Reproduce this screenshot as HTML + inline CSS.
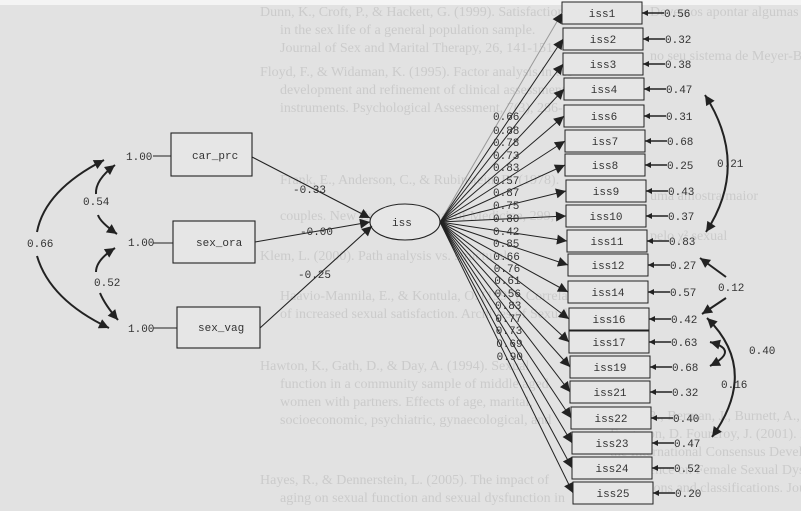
<!DOCTYPE html>
<html><head><meta charset="utf-8"><style>
html,body{margin:0;padding:0;background:#e2e2e2;}
svg{display:block}
.bg{font-family:"Liberation Serif",serif;font-size:14px;fill:#cbcbcb}
.m{font-family:"Liberation Mono",monospace;font-size:11px;fill:#333}
</style></head><body>
<svg width="801" height="511" viewBox="0 0 801 511" xmlns="http://www.w3.org/2000/svg">
<defs>
<marker id="a" viewBox="0 0 10 10" refX="10" refY="5" markerWidth="7" markerHeight="6" orient="auto-start-reverse" markerUnits="userSpaceOnUse"><path d="M0,0 L10,5 L0,10 z" fill="#222"/></marker>
<marker id="b" viewBox="0 0 10 10" refX="10" refY="5" markerWidth="12" markerHeight="10" orient="auto-start-reverse" markerUnits="userSpaceOnUse"><path d="M0,0 L10,5 L0,10 z" fill="#222"/></marker>
</defs>
<rect x="0" y="0" width="801" height="511" fill="#e2e2e2"/>
<rect x="0" y="0" width="801" height="5" fill="#f4f4f4"/>
<g class="bg">
<text x="260" y="16">Dunn, K., Croft, P., &amp; Hackett, G. (1999). Satisfaction</text>
<text x="280" y="34">in the sex life of a general population sample.</text>
<text x="280" y="52">Journal of Sex and Marital Therapy, 26, 141-151.</text>
<text x="260" y="76">Floyd, F., &amp; Widaman, K. (1995). Factor analysis in the</text>
<text x="280" y="94">development and refinement of clinical assessment</text>
<text x="280" y="112">instruments. Psychological Assessment, 7(3), 286-</text>
<text x="280" y="184">Frank, E., Anderson, C., &amp; Rubinstein, D. (1978).</text>
<text x="280" y="220">couples. New England Journal of Medicine, 299,</text>
<text x="260" y="260">Klem, L. (2000). Path analysis vs. structural</text>
<text x="280" y="300">Haavio-Mannila, E., &amp; Kontula, O. (1997). Correlates</text>
<text x="280" y="318">of increased sexual satisfaction. Archives of Sexual</text>
<text x="260" y="370">Hawton, K., Gath, D., &amp; Day, A. (1994). Sexual</text>
<text x="280" y="388">function in a community sample of middle aged</text>
<text x="280" y="406">women with partners. Effects of age, marital,</text>
<text x="280" y="424">socioeconomic, psychiatric, gynaecological, and</text>
<text x="260" y="484">Hayes, R., &amp; Dennerstein, L. (2005). The impact of</text>
<text x="280" y="502">aging on sexual function and sexual dysfunction in</text>
<text x="650" y="16">Devemos apontar algumas limitações ao</text>
<text x="650" y="60">no seu sistema de Meyer-Bahlburg</text>
<text x="650" y="200">uma amostra maior</text>
<text x="650" y="240">pelo χ² sexual</text>
<text x="600" y="420">Basson, R., Berman, J., Burnett, A., Derogatis, L.,</text>
<text x="610" y="438">Ferguson, D. Fourcroy, J. (2001). Report of</text>
<text x="610" y="456">the International Consensus Development</text>
<text x="610" y="474">Conference on Female Sexual Dysfunction:</text>
<text x="610" y="492">Definitions and classifications. Journal of Sex and</text>
</g>
<g stroke="#222" stroke-width="1.1" fill="none">
<rect x="171" y="133" width="81" height="43" fill="#e6e6e6"/>
<rect x="173" y="221" width="82" height="42" fill="#e6e6e6"/>
<rect x="177" y="307" width="83" height="41" fill="#e6e6e6"/>
<ellipse cx="405" cy="222" rx="35" ry="18" fill="#e6e6e6"/>
<line x1="252" y1="157" x2="370" y2="218" marker-end="url(#b)"/>
<line x1="255" y1="242" x2="370" y2="222" marker-end="url(#b)"/>
<line x1="260" y1="328" x2="372" y2="226" marker-end="url(#b)"/>
<line x1="153" y1="156" x2="171" y2="156"/>
<line x1="153" y1="243" x2="173" y2="243"/>
<line x1="153" y1="328" x2="177" y2="328"/>
<path d="M37,232 Q45,190 104,160" stroke-width="2" marker-end="url(#b)"/>
<path d="M37,256 Q50,300 109,328" stroke-width="2" marker-end="url(#b)"/>
<path d="M96,194 Q95,180 115,165" stroke-width="2" marker-end="url(#b)"/>
<path d="M98,215 Q100,222 117,234" stroke-width="2" marker-end="url(#b)"/>
<path d="M96,272 Q96,260 115,248" stroke-width="2" marker-end="url(#b)"/>
<path d="M100,293 Q105,305 118,320" stroke-width="2" marker-end="url(#b)"/>
</g>
<g class="m">
<text x="392" y="226">iss</text>
<text x="192" y="159">car_prc</text>
<text x="196" y="246">sex_ora</text>
<text x="198" y="331">sex_vag</text>
<text x="126" y="160">1.00</text>
<text x="128" y="246">1.00</text>
<text x="128" y="332">1.00</text>
<text x="293" y="193">-0.33</text>
<text x="300" y="235">-0.00</text>
<text x="298" y="278">-0.25</text>
<text x="27" y="247">0.66</text>
<text x="83" y="205">0.54</text>
<text x="94" y="286">0.52</text>
</g>
<g id="right" stroke="#222" stroke-width="1" fill="none"></g>
<g id="rt" class="m"></g>
<g stroke="#222" stroke-width="2" fill="none">
<path d="M705,95 Q750,165 706,232" marker-start="url(#b)" marker-end="url(#b)"/>
<path d="M700,258 L726,277" marker-start="url(#b)"/>
<path d="M726,298 L702,314" marker-end="url(#b)"/>
<path d="M710,342 Q740,350 710,366" marker-start="url(#b)" marker-end="url(#b)"/>
<path d="M707,318 Q760,370 712,437" marker-start="url(#b)" marker-end="url(#b)"/>
</g>
<g class="m">
<text x="717" y="167">0.21</text>
<text x="718" y="291">0.12</text>
<text x="749" y="354">0.40</text>
<text x="721" y="388">0.16</text>
</g>
<script>
var d=[["iss1",562,13,"0.56"],["iss2",563,39,"0.32"],["iss3",563,64,"0.38"],["iss4",564,89,"0.47"],["iss6",564,116,"0.31"],["iss7",565,141,"0.68"],["iss8",565,165,"0.25"],["iss9",566,191,"0.43"],["iss10",566,216,"0.37"],["iss11",567,241,"0.83"],["iss12",568,265,"0.27"],["iss14",568,292,"0.57"],["iss16",569,319,"0.42"],["iss17",569,342,"0.63"],["iss19",570,367,"0.68"],["iss21",570,392,"0.32"],["iss22",571,418,"0.40"],["iss23",572,443,"0.47"],["iss24",572,468,"0.52"],["iss25",573,493,"0.20"]];
var L=["0.66","0.88","0.78","0.73","0.83","0.57","0.87","0.75","0.80","0.42","0.85","0.66","0.76","0.61","0.56","0.83","0.77","0.73","0.69","0.90"];
var LY=[120,134,146,159,171,184,196,209,222,235,247,260,272,284,297,309,322,334,347,360];
var g=document.getElementById("right"),t=document.getElementById("rt"),ns="http://www.w3.org/2000/svg";
function el(p,n,a){var e=document.createElementNS(ns,n);for(var k in a)e.setAttribute(k,a[k]);p.appendChild(e);return e;}
d.forEach(function(r,i){
 var x=r[1],y=r[2];
 el(g,"rect",{x:x,y:y-11,width:80,height:22,fill:"#e6e6e6"});
 el(g,"line",{x1:440,y1:222,x2:x,y2:y,"marker-end":"url(#b)",stroke:i==0?"#999":"#222"});
 el(g,"line",{x1:x+102,y1:y,x2:x+80,y2:y,"marker-end":"url(#a)","stroke-width":1.5});
 var a=el(t,"text",{x:x+40,y:y+4,"text-anchor":"middle"});a.textContent=r[0];
 var b=el(t,"text",{x:x+102,y:y+4});b.textContent=r[3];
 var c=el(t,"text",{x:493+(i>10?(i-10)*0.4:0),y:LY[i]});c.textContent=L[i];
});
</script>
</svg>
</body></html>
